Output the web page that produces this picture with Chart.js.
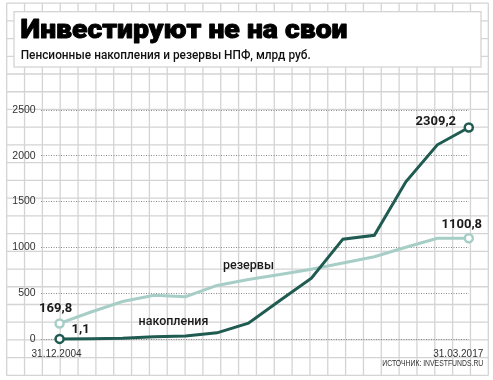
<!DOCTYPE html>
<html><head><meta charset="utf-8">
<script src="https://cdn.jsdelivr.net/npm/chart.js@4/dist/chart.umd.min.js"></script>
<style>html,body{margin:0;padding:0;background:#fff;}canvas{display:block;}</style>
</head><body>
<canvas id="c" width="493" height="380"></canvas>
<script>
const categories = ['31.12.2004','2005','2006','2007','2008','2009','2010','2011','2012','2013','2014','2015','2016','31.03.2017'];
const savings  = [1.1, 3.7, 9.5, 24, 34, 67, 172, 420, 664, 1090, 1132, 1716, 2120, 2309.2];
const reserves = [169.8, 295, 409, 477, 462, 585, 650, 704, 761, 830, 898, 1002, 1100, 1100.8];
const yTicks = [0, 500, 1000, 1500, 2000, 2500];
const seriesNames = ['накопления', 'резервы'];
const titleText = 'Инвестируют не на свои';
const subtitleText = 'Пенсионные накопления и резервы НПФ, млрд руб.';
const sourceText = 'ИСТОЧНИК: INVESTFUNDS.RU';

const DARK = '#1f5b51';
const LIGHT = '#a7cec6';
const last = categories.length - 1;
const fmt = v => String(v).replace('.', ',');

function fitText(ctx, text, x, y, width, strokeW) {
  const w = ctx.measureText(text).width;
  ctx.save();
  ctx.translate(x, y);
  ctx.scale(width / w, 1);
  ctx.fillText(text, 0, 0);
  if (strokeW) { ctx.lineWidth = strokeW; ctx.strokeStyle = ctx.fillStyle; ctx.lineJoin = 'round'; ctx.strokeText(text, 0, 0); }
  ctx.restore();
}

const paper = {
  id: 'paper',
  beforeDraw(chart) {
    const ctx = chart.ctx;
    ctx.save();
    ctx.fillStyle = '#fff';
    ctx.fillRect(0, 0, chart.width, chart.height);
    ctx.strokeStyle = '#d4d4d4';
    ctx.lineWidth = 1.3;
    const x0 = 6.7, x1 = 488.3, y0 = 3.1, y1 = 375.4;
    ctx.beginPath();
    for (let k = 0; k <= 27; k++) { const x = x0 + k * (x1 - x0) / 27; ctx.moveTo(x, y0); ctx.lineTo(x, y1); }
    for (let k = 0; k <= 21; k++) { const y = y0 + k * (y1 - y0) / 21; ctx.moveTo(x0, y); ctx.lineTo(x1, y); }
    ctx.stroke();
    ctx.fillStyle = '#fff';
    ctx.fillRect(14, 11.7, 467, 55.3);
    ctx.strokeRect(14, 11.7, 467, 55.3);
    // heading texts
    ctx.textAlign = 'left';
    ctx.textBaseline = 'alphabetic';
    ctx.fillStyle = '#000';
    ctx.font = '900 25.5px Roboto';
    fitText(ctx, titleText, 20.5, 37.5, 327, 0.9);
    ctx.fillStyle = '#111';
    ctx.font = '500 12px Roboto';
    fitText(ctx, subtitleText, 20.7, 58.5, 290, 0);
    ctx.restore();
  }
};

const labelsPlugin = {
  id: 'labelsPlugin',
  afterDatasetsDraw(chart) {
    const ctx = chart.ctx;
    const xs = chart.scales.x, ys = chart.scales.y;
    const px = i => xs.getPixelForValue(i);
    const py = v => ys.getPixelForValue(v);
    ctx.save();
    ctx.textBaseline = 'middle';
    ctx.textAlign = 'center';
    ctx.fillStyle = '#1a1a1a';
    ctx.font = 'bold 13px Roboto';
    ctx.fillText(fmt(reserves[0]), px(0) - 4, py(reserves[0]) - 15);
    ctx.fillText(fmt(savings[0]), px(0) + 21, py(savings[0]) - 9.5);
    ctx.fillText(fmt(savings[last]), px(last) - 33, py(savings[last]) - 6);
    ctx.fillText(fmt(reserves[last]), px(last) - 7, py(reserves[last]) - 13);
    ctx.font = '500 12.5px Roboto';
    ctx.fillText(seriesNames[1], px(6), py(reserves[6]) - 13.5);
    ctx.fillText(seriesNames[0], px(4) - 12, py(savings[4]) - 14);
    ctx.font = '10px "Liberation Sans"';
    ctx.fillStyle = '#333';
    ctx.fillText(categories[0], px(0) - 3, py(0) + 15);
    ctx.textAlign = 'right';
    ctx.fillText(categories[last], px(last) + 14.5, py(0) + 15);
    ctx.font = '8.5px "Liberation Sans"';
    ctx.fillText(sourceText, px(last) + 14.5, py(0) + 25, 101);
    ctx.restore();
  }
};

const pointR = ctx => (ctx.dataIndex === 0 || ctx.dataIndex === last) ? 4 : 0;

new Chart(document.getElementById('c'), {
  type: 'line',
  data: {
    datasets: [
      { label: seriesNames[0], data: savings.map((v, i) => ({x: i, y: v})), borderColor: DARK, borderWidth: 3,
        pointRadius: pointR, pointBorderWidth: 2.5, pointBackgroundColor: '#fff', pointBorderColor: DARK, tension: 0, clip: false },
      { label: seriesNames[1], data: reserves.map((v, i) => ({x: i, y: v})), borderColor: LIGHT, borderWidth: 3,
        pointRadius: pointR, pointBorderWidth: 2.5, pointBackgroundColor: '#fff', pointBorderColor: LIGHT, tension: 0, clip: false }
    ]
  },
  options: {
    responsive: false,
    animation: false,
    events: [],
    layout: { padding: { top: 110, left: 0, right: 24.2, bottom: 41 } },
    plugins: {
      legend: { display: false },
      tooltip: { enabled: false },
      title: { display: false },
      subtitle: { display: false }
    },
    scales: {
      x: { type: 'linear', min: -0.6, max: last, display: false },
      y: {
        min: yTicks[0], max: yTicks[yTicks.length - 1],
        afterBuildTicks: s => { s.ticks = yTicks.map(v => ({value: v})); },
        afterFit: s => { s.width = 40.7; },
        ticks: { padding: 5, color: '#333', font: { family: 'Liberation Sans', size: 10.5 }, callback: v => String(v) },
        grid: { color: '#8a8a8a', lineWidth: 1, drawTicks: false },
        border: { display: false, dash: [1, 1.5] }
      }
    }
  },
  plugins: [paper, labelsPlugin]
});
</script>
</body></html>
